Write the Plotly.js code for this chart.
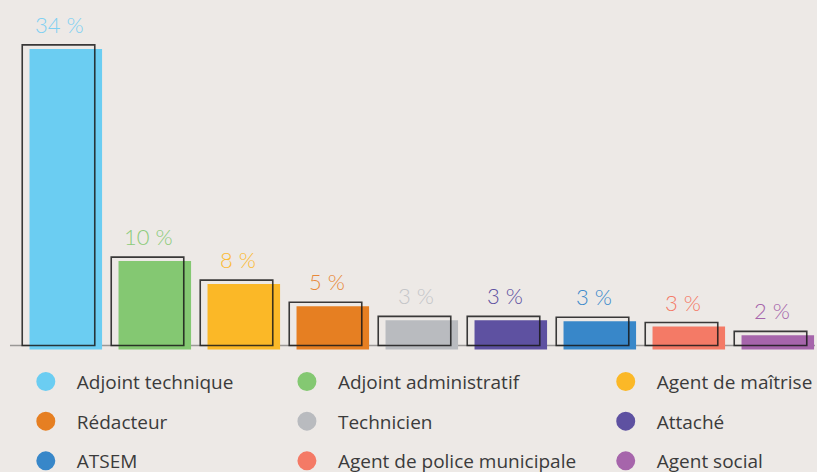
<!DOCTYPE html>
<html>
<head>
<meta charset="utf-8">
<script src="https://cdn.plot.ly/plotly-3.0.1.min.js"></script>
<style>
  html, body { margin: 0; padding: 0; background: #EDE9E6; }
  #chart { width: 817px; height: 472px; }
</style>
</head>
<body>
<div id="chart"></div>
<script>
const categories = ["Adjoint technique", "Adjoint administratif", "Agent de maîtrise",
                    "Rédacteur", "Technicien", "Attaché",
                    "ATSEM", "Agent de police municipale", "Agent social"];
const values = [34, 10, 7.4, 4.9, 3.3, 3.3, 3.2, 2.6, 1.6];
const labels = ["34 %", "10 %", "8 %", "5 %", "3 %", "3 %", "3 %", "3 %", "2 %"];
const colors = ["#6BCDF2", "#84C872", "#FBB827", "#E67F22", "#B9BBBF", "#5E51A1",
                "#3887C9", "#F47A66", "#A665AB"];
const labelColors = ["#7FD0F2", "#8CCB7A", "#FBBA35", "#E8893A", "#C4C5C8", "#5E51A1",
                     "#3C8ACB", "#F47A66", "#A665AB"];

const fillShift = 0.45;   // fill bars sit slightly below the outline
const barWidth = 0.815;

const traces = [];
// filled bars
traces.push({
  type: "bar", x: categories, y: values, base: categories.map(() => -fillShift),
  width: barWidth, offset: -barWidth / 2 + 0.082,
  marker: { color: colors, line: { width: 0 } },
  showlegend: false, hoverinfo: "skip"
});
// outline bars
traces.push({
  type: "bar", x: categories, y: values,
  width: barWidth, offset: -barWidth / 2,
  marker: { color: "rgba(0,0,0,0)", line: { color: "rgba(25,25,25,0.85)", width: 1.6 } },
  showlegend: false, hoverinfo: "skip"
});
// legend entries (3 columns)
const legendIds = ["legend", "legend2", "legend3"];
categories.forEach((c, i) => {
  traces.push({
    type: "scatter", mode: "markers", x: [null], y: [null], name: c,
    legend: legendIds[i % 3], legendgroup: c,
    marker: { color: colors[i], size: 20, line: { color: colors[i], width: 3 } },
    hoverinfo: "skip"
  });
});

const annotations = categories.map((c, i) => ({
  x: c, y: values[i], xref: "x", yref: "y",
  text: labels[i], showarrow: false, yanchor: "bottom", yshift: 5, xshift: 1,
  font: { family: "Lato, 'Open Sans', sans-serif", size: 22, weight: 300, color: labelColors[i] }
}));

const legendBase = {
  orientation: "v", xanchor: "left", yanchor: "top", y: -0.034,
  bgcolor: "rgba(0,0,0,0)", borderwidth: 0,
  font: { family: "'Open Sans', sans-serif", size: 19, color: "#3B3B3B" },
  itemwidth: 52, traceorder: "grouped", tracegroupgap: 12,
  itemclick: false, itemdoubleclick: false
};

const layout = {
  width: 817, height: 472,
  margin: { l: 14, r: 2, t: 10, b: 121, pad: 0, autoexpand: false },
  paper_bgcolor: "#EDE9E6", plot_bgcolor: "#EDE9E6",
  barmode: "overlay",
  showlegend: true,
  xaxis: { type: "category", range: [-0.5, 8.5], showticklabels: false, showgrid: false,
           zeroline: false, showline: false, fixedrange: true },
  yaxis: { range: [-0.62, 37.95], showticklabels: false, showgrid: false, zeroline: false,
           showline: false, fixedrange: true },
  shapes: [{
    type: "line", xref: "paper", yref: "y", x0: -0.005, x1: 1, y0: 0, y1: 0,
    line: { color: "#9A9896", width: 1.5 }, layer: "below"
  }],
  annotations: annotations,
  legend: Object.assign({}, legendBase, { x: 0.001 }),
  legend2: Object.assign({}, legendBase, { x: 0.327 }),
  legend3: Object.assign({}, legendBase, { x: 0.725 })
};

Plotly.newPlot("chart", traces, layout, { displayModeBar: false, staticPlot: true });
</script>
</body>
</html>
